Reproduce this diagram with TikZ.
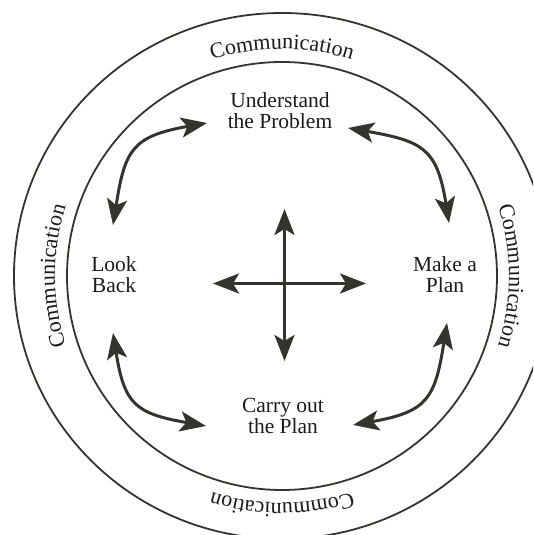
\documentclass[tikz,border=0pt]{standalone}
\usepackage{fontspec}
\setmainfont{Liberation Serif}
\usetikzlibrary{arrows.meta,decorations.text}
\definecolor{ink}{RGB}{52,52,46}
\tikzset{
	ring/.style={line width=1.8pt, ink},
	dblarrow/.style={{Stealth[length=26pt,width=20pt,inset=6pt]}-{Stealth[length=26pt,width=20pt,inset=6pt]}, line width=3pt, ink},
	stage/.style={align=center, font=\fontsize{21.5}{21}\selectfont, text=ink!50!black},
}
\begin{document}
\begin{tikzpicture}[x=1pt,y=1pt]
	\useasboundingbox (0,0) rectangle (533,535);
	\clip (0,0) rectangle (533,535);
	\coordinate (c) at (282,259);
	\draw[ring] (c) ellipse[x radius=268pt, y radius=263pt];
	\draw[ring] (c) ellipse[x radius=215pt, y radius=214pt];
	% ring text, read clockwise
	\foreach \a in {90,0,-90,180} {
		\path[decorate, decoration={text along path, text align=center,
			text={|\fontsize{22}{22}\selectfont\color{ink!50!black}|Communication}}]
			(c) ++(\a+45:227pt) arc[start angle=\a+45, end angle=\a-45, radius=227pt];
	}
	\node[stage] (understand) at (280,424.5) {Understand\\the Problem};
	\node[stage] (makeplan) at (445,260) {Make a\\Plan};
	\node[stage] (lookback) at (114,260.5) {Look\\Back};
	\node[stage] (carryout) at (283,119) {Carry out\\the Plan};
	\coordinate (tl1) at (113,310); \coordinate (tl2) at (207,412);
	\coordinate (tr1) at (348,407); \coordinate (tr2) at (449,312);
	\coordinate (bl1) at (113,202); \coordinate (bl2) at (206,109);
	\coordinate (br1) at (447,212); \coordinate (br2) at (353,110);
	\foreach \s/\e/\o/\i in {tl1/tl2/81/190, tr1/tr2/-10/99, bl1/bl2/-81/170, br1/br2/-99/10} {
		\draw[dblarrow] (\s) to[out=\o, in=\i, looseness=1.4] (\e);
	}
	% centre cross
	\coordinate (xw) at (213,251.5); \coordinate (xe) at (366,251.5);
	\coordinate (xn) at (284.5,326); \coordinate (xs) at (284.5,174);
	\draw[dblarrow] (xw) -- (xe);
	\draw[dblarrow] (xn) -- (xs);
\end{tikzpicture}
\end{document}
